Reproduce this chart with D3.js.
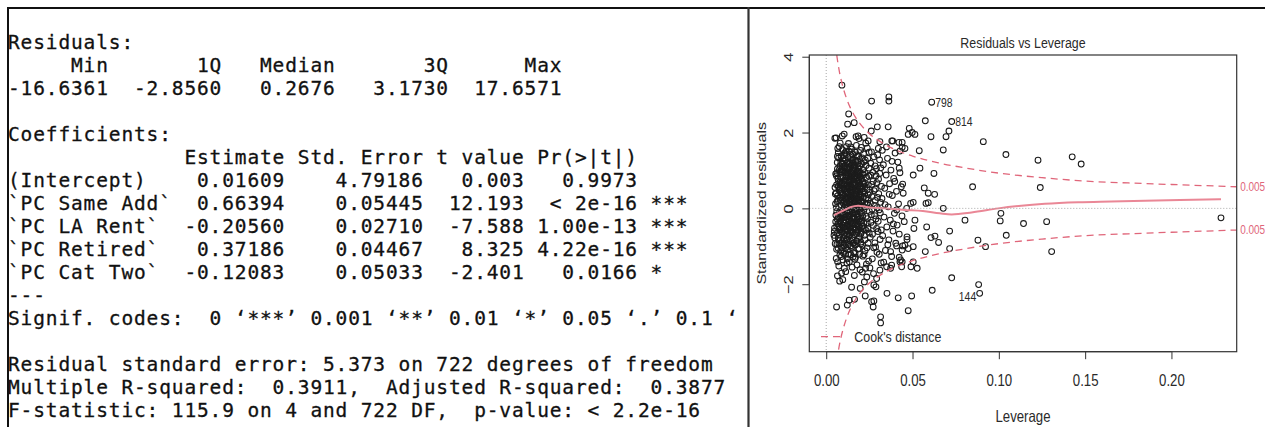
<!DOCTYPE html>
<html>
<head>
<meta charset="utf-8">
<script src="https://cdn.jsdelivr.net/npm/d3@7"></script>
<style>
  html, body { margin: 0; padding: 0; background: #fff; }
  svg { display: block; }
</style>
</head>
<body>
<svg id="fig" width="1265" height="427"></svg>
<script>
// ---------- lm() summary values ----------
const quantileNames  = ["Min", "1Q", "Median", "3Q", "Max"];
const quantileValues = ["-16.6361", "-2.8560", "0.2676", "3.1730", "17.6571"];

const coefHeaders   = ["Estimate", "Std. Error", "t value", "Pr(>|t|)"];
const coefNames     = ["(Intercept)", "`PC Same Add`", "`PC LA Rent`", "`PC Retired`", "`PC Cat Two`"];
const coefEstimates = ["0.01609", "0.66394", "-0.20560", "0.37186", "-0.12083"];
const coefStdErrors = ["4.79186", "0.05445", "0.02710", "0.04467", "0.05033"];
const coefTValues   = ["0.003", "12.193", "-7.588", "8.325", "-2.401"];
const coefPValues   = ["0.9973", "< 2e-16", "1.00e-13", "4.22e-16", "0.0166"];
const coefStars     = ["", "***", "***", "***", "*"];

const signifCuts  = ["0", "0.001", "0.01", "0.05", "0.1", "1"];
const signifCodes = ["***", "**", "*", ".", " "];

const residualSE = "5.373";
const residualDf = "722";
const rSquared = "0.3911";
const adjRSquared = "0.3877";
const fStatistic = "115.9";
const fNumDf = "4";
const fPValue = "< 2.2e-16";

// ---------- Residuals vs Leverage values ----------
const leverageTicks = [0, 0.05, 0.10, 0.15, 0.20];
const residualTicks = [-2, 0, 2, 4];
const leverageDomain = [-0.0098, 0.2378];
const residualDomain = [-3.78, 4.045];

// observations: [leverage, standardized residual]
const obsPoints = [
  // spread-out observations
  [0.0091,3.25],[0.0263,2.83],[0.0363,2.94],[0.0363,2.83],[0.0611,2.80],[0.0727,2.29],[0.0711,2.04],
  [0.0694,1.89],[0.0574,2.31],[0.0247,2.42],[0.0130,2.49],[0.0359,2.15],[0.0296,2.15],[0.0261,2.04],
  [0.0481,2.11],[0.0514,1.95],[0.0475,1.95],[0.0607,1.89],[0.0910,1.76],[0.1041,1.42],[0.1227,1.27],
  [0.1425,1.36],[0.1477,1.17],[0.0678,1.54],[0.0539,1.52],[0.0624,0.92],[0.0543,1.06],[0.0504,0.88],
  [0.0423,1.06],[0.0848,0.57],[0.1240,0.55],[0.0568,0.54],[0.0591,0.40],[0.0628,0.37],[0.0591,0.15],
  [0.0504,0.16],[0.0443,0.64],[0.0446,0.40],[0.0678,0.00],[0.0421,1.74],[0.0440,1.74],[0.0380,1.78],
  [0.0311,1.76],[0.0124,2.22],[0.0162,2.26],[0.0050,1.85],[0.0093,1.91],[0.0104,1.96],[0.0185,1.91],
  [0.0220,1.87],[0.0243,1.78],[0.0385,1.78],[0.0498,2.00],[0.0489,0.13],[0.0466,0.00],[0.0578,0.13],
  [0.0440,1.61],[0.0456,1.58],[0.0427,1.51],
  [0.0804,-0.31],[0.1012,-0.13],[0.1008,-0.33],[0.1143,-0.40],[0.1277,-0.35],[0.2287,-0.25],[0.1043,-0.71],
  [0.1306,-1.14],[0.0715,-0.60],[0.0582,-0.49],[0.0607,-0.77],[0.0630,-0.73],[0.0651,-0.90],[0.0879,-0.84],
  [0.0923,-1.01],[0.0715,-1.06],[0.0574,-1.14],[0.0727,-1.83],[0.0883,-2.01],[0.0889,-2.24],[0.0614,-2.16],
  [0.0495,-2.31],[0.0475,-2.70],[0.0417,-2.36],[0.0352,-2.24],[0.0315,-3.02],[0.0315,-2.86],[0.0272,-2.60],
  [0.0263,-2.46],[0.0226,-2.31],[0.0164,-2.40],[0.0122,-2.55],[0.0060,-2.60],[0.0288,-2.07],[0.0197,-2.11],
  [0.0491,-1.54],[0.0527,-1.58],[0.0504,-1.41],[0.0475,-1.06],[0.0456,-0.97],[0.0468,-0.75],[0.0468,-0.82],
  [0.0443,-0.99],[0.0408,-0.99],[0.0423,-1.29],[0.0440,-1.41],[0.0379,-1.50],[0.0373,-1.14],[0.0514,-0.31],
  [0.0508,-0.53],[0.0452,-0.35],[0.0408,-0.04],[0.0133,-2.42],[0.0276,-2.44],[0.0147,-2.08],[0.0276,-2.02],
  [0.0292,-1.85],[0.0350,-1.54],[0.0437,-1.54],[0.0427,-1.41],[0.0440,-1.10],[0.0504,-1.01],
  // dense low-leverage block
  [0.0045,-0.71],[0.0048,-0.52],[0.0051,0.55],[0.0052,-0.93],[0.0054,0.12],[0.0055,-0.35],[0.0057,1.86],
  [0.0058,-1.32],[0.0060,0.62],[0.0061,-0.08],[0.0062,0.94],[0.0063,-0.66],[0.0064,1.21],[0.0065,-1.78],
  [0.0066,0.33],[0.0067,-0.41],[0.0068,0.78],[0.0069,-1.05],[0.0070,1.47],[0.0071,-0.22],[0.0072,0.05],
  [0.0073,-1.52],[0.0074,0.48],[0.0075,-0.84],[0.0076,1.02],[0.0077,-0.12],[0.0078,0.27],[0.0079,-1.23],
  [0.0080,0.69],[0.0047,-0.61],[0.0050,-0.78],[0.0053,0.38],[0.0056,-0.18],[0.0059,0.86],[0.0062,-0.95],
  [0.0066,-1.41],[0.0069,0.21],[0.0072,1.33],[0.0075,-0.55],[0.0078,-1.92],[0.0080,1.12],[0.0064,-0.29],
  [0.0070,0.58],[0.0076,-0.71],[0.0058,0.02],[0.0067,1.58],[0.0073,-0.48],[0.0079,0.92],
  [0.0082,-0.33],[0.0083,0.81],[0.0084,-1.12],[0.0085,0.44],[0.0086,1.38],[0.0087,-0.62],[0.0088,0.07],
  [0.0089,-1.71],[0.0090,1.02],[0.0091,-0.26],[0.0092,0.65],[0.0093,-0.88],[0.0094,1.55],[0.0095,-0.04],
  [0.0096,0.31],[0.0097,-1.36],[0.0098,0.97],[0.0099,-0.51],[0.0100,1.25],[0.0101,-0.15],[0.0102,0.52],
  [0.0103,-0.97],[0.0104,0.18],[0.0105,-1.58],[0.0106,0.74],[0.0107,-0.39],[0.0108,1.46],[0.0109,-0.72],
  [0.0110,0.09],[0.0111,1.11],[0.0112,-1.21],[0.0113,0.37],[0.0114,-0.31],[0.0115,0.88],[0.0116,-0.82],
  [0.0117,1.63],[0.0118,-0.06],[0.0119,0.59],[0.0120,-1.44],[0.0081,1.72],[0.0084,0.22],[0.0087,0.96],
  [0.0090,-0.44],[0.0093,0.41],[0.0096,-1.88],[0.0099,0.14],[0.0102,-0.68],[0.0105,1.07],[0.0108,-0.23],
  [0.0111,0.68],[0.0114,-1.03],[0.0117,0.27],[0.0120,0.83],[0.0085,-0.91],[0.0091,0.53],[0.0097,1.31],
  [0.0103,-0.36],[0.0109,0.46],[0.0115,-0.55],[0.0088,-1.27],[0.0094,-0.17],[0.0100,0.72],[0.0106,-1.13],
  [0.0112,1.28],[0.0118,-0.47],[0.0089,0.28],[0.0095,1.19],[0.0101,-0.79],[0.0107,0.03],[0.0113,-1.67],
  [0.0119,1.42],
  [0.0121,0.16],[0.0122,-0.58],[0.0123,1.04],[0.0124,-0.19],[0.0125,0.61],[0.0126,-1.09],[0.0127,1.33],
  [0.0128,0.02],[0.0129,-0.74],[0.0130,0.87],[0.0131,-0.28],[0.0132,1.51],[0.0133,0.35],[0.0134,-1.41],
  [0.0135,0.73],[0.0136,-0.47],[0.0137,1.18],[0.0138,-0.09],[0.0139,0.49],[0.0140,-0.86],[0.0141,1.62],
  [0.0142,0.24],[0.0143,-1.22],[0.0144,0.95],[0.0145,-0.34],[0.0146,0.57],[0.0147,-0.63],[0.0148,1.27],
  [0.0149,0.11],[0.0150,-1.55],[0.0151,0.79],[0.0152,-0.13],[0.0153,1.43],[0.0154,-0.92],[0.0155,0.42],
  [0.0156,-0.41],[0.0157,1.09],[0.0158,0.06],[0.0159,-1.17],[0.0160,0.66],[0.0122,0.93],[0.0124,1.21],
  [0.0126,0.38],[0.0128,-0.96],[0.0130,-0.07],[0.0132,0.69],[0.0134,0.12],[0.0136,1.36],[0.0138,-0.59],
  [0.0140,0.31],[0.0142,-0.38],[0.0144,1.14],[0.0146,-1.03],[0.0148,0.47],[0.0150,0.91],[0.0152,-0.77],
  [0.0154,0.21],[0.0156,1.29],[0.0158,-0.53],[0.0160,1.02],[0.0123,-1.33],[0.0127,0.54],[0.0131,1.05],
  [0.0135,-0.21],[0.0139,0.83],[0.0143,0.58],[0.0147,1.56],[0.0151,-0.26],[0.0155,-1.28],[0.0159,0.34],
  [0.0125,0.29],[0.0129,1.71],[0.0133,-0.51],[0.0137,0.19],[0.0141,-0.99],[0.0145,0.76],[0.0149,-0.45],
  [0.0153,0.63],[0.0157,-0.14],[0.0121,-0.81],
  [0.0161,-0.24],[0.0162,1.15],[0.0163,0.39],[0.0164,-0.69],[0.0165,0.84],[0.0166,-1.34],[0.0167,0.17],
  [0.0168,1.48],[0.0169,-0.43],[0.0170,0.61],[0.0171,-0.01],[0.0172,1.02],[0.0173,-0.87],[0.0174,0.33],
  [0.0175,1.66],[0.0176,-0.32],[0.0177,0.72],[0.0178,-1.49],[0.0179,0.26],[0.0180,0.97],[0.0181,-0.61],
  [0.0182,0.08],[0.0183,1.24],[0.0184,-1.07],[0.0185,0.51],[0.0186,-0.18],[0.0187,0.88],[0.0188,-0.79],
  [0.0189,1.37],[0.0190,0.13],[0.0191,-0.36],[0.0192,0.67],[0.0193,-1.21],[0.0194,1.11],[0.0195,0.44],
  [0.0196,-0.52],[0.0197,0.92],[0.0198,-0.11],[0.0199,1.53],[0.0200,-0.94],[0.0163,-1.77],[0.0166,0.52],
  [0.0169,1.26],[0.0172,-0.56],[0.0175,0.09],[0.0178,0.81],[0.0181,1.38],[0.0184,0.22],[0.0187,-0.29],
  [0.0190,1.84],[0.0193,0.37],[0.0196,-1.62],[0.0199,0.58],[0.0162,-0.04],[0.0168,-0.97],[0.0174,1.41],
  [0.0180,-0.23],[0.0186,1.06],[0.0192,-0.74],[0.0198,0.29],[0.0165,0.63],[0.0171,0.46],[0.0177,-0.86],
  [0.0183,-0.41],[0.0189,0.76],[0.0195,-0.27],[0.0167,-1.19],[0.0173,1.89],[0.0179,-0.07],[0.0185,0.99],
  [0.0202,0.34],[0.0204,-0.63],[0.0206,1.18],[0.0208,-0.12],[0.0210,0.71],[0.0212,-1.26],[0.0214,0.46],
  [0.0216,1.44],[0.0218,-0.39],[0.0220,0.04],[0.0222,0.94],[0.0224,-0.83],[0.0226,1.27],[0.0228,-1.58],
  [0.0230,0.27],[0.0232,-0.21],[0.0234,0.82],[0.0236,-1.04],[0.0238,1.59],[0.0240,0.14],[0.0242,-0.54],
  [0.0244,0.62],[0.0246,-1.39],[0.0248,1.06],[0.0250,-0.08],[0.0203,1.61],[0.0205,-0.33],[0.0207,0.52],
  [0.0209,-1.68],[0.0211,0.18],[0.0213,-0.47],[0.0215,0.89],[0.0217,-0.03],[0.0219,1.23],[0.0221,-0.71],
  [0.0223,0.38],[0.0225,-1.12],[0.0227,0.66],[0.0229,1.72],[0.0231,-0.58],[0.0233,0.11],[0.0235,-1.81],
  [0.0237,0.49],[0.0239,-0.27],[0.0241,1.32],[0.0243,-0.92],[0.0245,0.23],[0.0247,0.85],[0.0249,-0.65],
  [0.0201,-0.89],[0.0213,1.02],[0.0219,-1.22],[0.0225,0.57],[0.0231,1.13],[0.0237,-0.38],[0.0243,0.36],
  [0.0249,1.48],[0.0209,0.07],[0.0221,-1.94],[0.0233,-1.47],
  [0.0252,0.42],[0.0255,-0.76],[0.0258,1.19],[0.0261,-0.17],[0.0264,0.63],[0.0267,-1.33],[0.0270,0.95],
  [0.0273,-0.45],[0.0276,1.36],[0.0279,0.08],[0.0282,-0.91],[0.0285,0.51],[0.0288,-0.28],[0.0291,1.05],
  [0.0294,-1.16],[0.0297,0.29],[0.0300,-0.61],[0.0303,0.77],[0.0306,-0.04],[0.0309,1.28],[0.0312,-0.82],
  [0.0315,0.16],[0.0318,-1.44],[0.0320,0.58],[0.0253,-1.57],[0.0256,0.13],[0.0259,-0.37],[0.0262,1.49],
  [0.0265,0.31],[0.0268,-0.68],[0.0271,0.71],[0.0274,-1.72],[0.0277,0.47],[0.0280,-0.19],[0.0283,1.12],
  [0.0286,-1.02],[0.0289,0.86],[0.0292,-0.53],[0.0295,0.02],[0.0298,1.41],[0.0301,-0.34],[0.0304,0.39],
  [0.0307,-1.21],[0.0310,0.92],[0.0313,-0.12],[0.0316,1.07],[0.0319,-0.57],[0.0257,0.88],[0.0266,-0.02],
  [0.0275,-1.04],[0.0284,0.21],[0.0293,0.68],[0.0302,1.58],[0.0311,-1.63],
  [0.0323,0.26],[0.0327,-0.72],[0.0331,1.15],[0.0335,-0.23],[0.0339,0.53],[0.0343,-1.11],[0.0347,0.88],
  [0.0351,-0.49],[0.0355,1.32],[0.0359,0.04],[0.0363,-0.83],[0.0367,0.65],[0.0371,-0.31],[0.0375,1.01],
  [0.0379,-1.27],[0.0383,0.34],[0.0387,-0.60],[0.0391,0.79],[0.0395,-0.13],[0.0399,1.46],[0.0403,-0.92],
  [0.0407,0.45],[0.0411,-0.44],[0.0415,1.22],[0.0419,0.12],[0.0423,-0.68],[0.0427,0.94],[0.0431,-1.36],
  [0.0435,0.57],[0.0439,-0.20],[0.0325,1.53],[0.0333,-1.42],[0.0341,0.10],[0.0349,1.62],[0.0357,-0.96],
  [0.0365,0.37],[0.0373,-1.58],[0.0381,1.24],[0.0389,-0.41],[0.0397,0.71],
  [0.0104,0.63],[0.0109,0.95],[0.0114,0.52],[0.0119,0.08],[0.0124,0.72],[0.0129,0.44],[0.0134,0.97],
  [0.0139,0.26],[0.0144,0.41],[0.0149,0.86],[0.0154,0.99],[0.0159,0.53],[0.0164,0.13],[0.0169,0.68],
  [0.0174,0.92],[0.0179,0.47],[0.0184,0.74],[0.0189,0.31],[0.0194,0.83],[0.0199,0.19],[0.0204,0.57],
  [0.0209,0.91],[0.0214,0.28],[0.0219,0.64],[0.0106,-0.58],[0.0116,-0.23],[0.0126,-0.44],[0.0136,-0.71],
  [0.0146,-0.16],[0.0156,-0.63],[0.0166,-0.38],[0.0176,-0.14],[0.0186,-0.57],[0.0196,-0.02],[0.0206,-0.48],
  [0.0131,0.58],[0.0141,0.12],[0.0151,1.19],[0.0161,0.81],[0.0171,1.23],
  [0.0058,0.41],[0.0061,-0.47],[0.0063,0.18],[0.0065,1.04],[0.0068,-0.24],[0.0071,0.71],[0.0074,-0.93],
  [0.0077,0.53],[0.0079,-0.36],[0.0082,0.97],[0.0085,-0.14],[0.0088,0.62],[0.0091,1.18],[0.0094,-0.62],
  [0.0097,0.36],[0.0100,-0.31],[0.0103,1.12],[0.0106,0.26],[0.0109,-0.92],[0.0112,0.79],[0.0115,0.14],
  [0.0118,1.05],[0.0121,0.45],[0.0124,-0.69],[0.0127,0.88],[0.0130,0.21],[0.0133,-0.18],[0.0136,0.62],
  [0.0139,1.09],[0.0142,-0.52],[0.0145,0.33],[0.0148,0.74],[0.0151,0.04],[0.0154,-0.37],[0.0157,0.81],
  [0.0160,0.25],[0.0163,1.07],[0.0166,-0.12],[0.0169,0.42],[0.0172,0.77],[0.0175,-0.66],[0.0178,0.36],
  [0.0181,0.58],[0.0184,1.18],[0.0187,0.18],[0.0190,-0.49],[0.0193,0.97],[0.0196,0.51],[0.0199,-0.33],
  [0.0202,0.79],[0.0205,0.16],[0.0208,1.33],[0.0211,-0.21],[0.0214,0.68],[0.0217,0.43],[0.0220,-0.53],
  [0.0060,-1.08],[0.0070,-0.79],[0.0080,-0.51],[0.0090,-1.03],[0.0100,-1.18],[0.0110,-0.49],[0.0120,-0.27],
  [0.0130,-1.21],[0.0140,-0.64],[0.0150,-0.83],[0.0160,-0.92],[0.0170,-1.29],[0.0180,-0.46],[0.0190,-1.06],
  [0.0200,-0.68],[0.0210,-0.97],[0.0055,0.91],[0.0065,1.37],[0.0075,1.63],[0.0085,1.22],[0.0095,0.83],
  [0.0105,1.39],[0.0115,1.51],[0.0125,1.08]
];

// observations flagged by row number
const flaggedIds = ["798", "814", "144"];
const flaggedLeverage = [0.0611, 0.0727, 0.0889];
const flaggedResidual = [2.80, 2.29, -2.24];
const flaggedSide = ["right", "right", "left"];

// loess smoother through the residuals
const smoothLine = [
  [0.0046,-0.18],[0.0080,-0.10],[0.0108,-0.04],[0.0140,0.03],[0.0185,0.07],[0.0243,0.03],[0.0340,0.00],
  [0.0456,-0.04],[0.0560,-0.07],[0.0658,-0.13],[0.0727,-0.16],[0.0842,-0.11],[0.0997,0.00],
  [0.1130,0.07],[0.1267,0.12],[0.1460,0.16],[0.1650,0.18],[0.1847,0.20],[0.2050,0.22],[0.2287,0.24]
];

// Cook's distance contour (upper half; the lower half mirrors it)
const cookLevel = "0.005";
const cookContour = [
  [0.0061,4.04],[0.0070,3.77],[0.0080,3.52],[0.0090,3.32],[0.0100,3.15],[0.0120,2.87],[0.0140,2.65],
  [0.0170,2.40],[0.0200,2.21],[0.0250,1.97],[0.0300,1.80],[0.0380,1.59],[0.0500,1.38],[0.0650,1.20],
  [0.0800,1.07],[0.1000,0.93],[0.1250,0.81],[0.1500,0.72],[0.1750,0.67],[0.2000,0.63],[0.2378,0.57]
];

// ---------- drawing ----------
const svg = d3.select("#fig");
svg.append("rect").attr("width", 1265).attr("height", 427).attr("fill", "#fff");

// -- left panel: console text --
const CHAR_W = 12.6;
const lines = [];
lines.push("Residuals:");
lines.push(quantileNames.map(n => n.padStart(8)).join(" "));
lines.push(quantileValues.map(v => v.padStart(8)).join(" "));
lines.push("");
lines.push("Coefficients:");
const nameW = d3.max(coefNames, d => d.length);
const colW = coefHeaders.map((h, i) =>
  Math.max(h.length, d3.max([coefEstimates, coefStdErrors, coefTValues, coefPValues][i], d => d.length)));
lines.push("".padEnd(nameW) + " " + coefHeaders.map((h, i) => h.padStart(colW[i])).join(" "));
coefNames.forEach((n, i) => {
  const cols = [coefEstimates[i], coefStdErrors[i], coefTValues[i], coefPValues[i]];
  lines.push(n.padEnd(nameW) + " " + cols.map((c, j) => c.padStart(colW[j])).join(" ") + " " + coefStars[i]);
});
lines.push("---");
let codes = "Signif. codes:  " + signifCuts[0];
signifCodes.forEach((c, i) => { codes += " \u2018" + c + "\u2019 " + signifCuts[i + 1]; });
lines.push(codes);
lines.push("");
lines.push(`Residual standard error: ${residualSE} on ${residualDf} degrees of freedom`);
lines.push(`Multiple R-squared:  ${rSquared},  Adjusted R-squared:  ${adjRSquared}`);
lines.push(`F-statistic: ${fStatistic} on ${fNumDf} and ${residualDf} DF,  p-value: ${fPValue}`);

svg.append("clipPath").attr("id", "consoleClip")
  .append("rect").attr("x", 0).attr("y", 0).attr("width", 746).attr("height", 427);

const consoleG = svg.append("g").attr("clip-path", "url(#consoleClip)");
const FS = 19.5;
consoleG.selectAll("text.line")
  .data(lines)
  .join("text")
  .attr("class", "line")
  .attr("x", 8)
  .attr("y", (d, i) => 49.3 + 23 * i)
  .attr("xml:space", "preserve")
  .style("white-space", "pre")
  .style("font-family", "'DejaVu Sans Mono', monospace")
  .style("font-size", FS + "px")
  .style("letter-spacing", (CHAR_W - FS * 0.6021) + "px")
  .attr("fill", "#111")
  .attr("stroke", "#111")
  .attr("stroke-width", 0.3)
  .text(d => d);

// frame lines
svg.append("line").attr("x1", 7).attr("x2", 1265).attr("y1", 8).attr("y2", 8)
  .attr("stroke", "#111").attr("stroke-width", 2);
svg.append("line").attr("x1", 8).attr("x2", 8).attr("y1", 7).attr("y2", 427)
  .attr("stroke", "#111").attr("stroke-width", 2);
svg.append("line").attr("x1", 748.5).attr("x2", 748.5).attr("y1", 7).attr("y2", 427)
  .attr("stroke", "#333").attr("stroke-width", 2.2);

// -- right panel: residuals vs leverage --
const PL = 809.3, PR = 1236.7, PT = 55, PB = 351.7;
const SQ = 0.8;        // horizontal squeeze of the plot lettering
const RED = "#e0667a";
const x = d3.scaleLinear().domain(leverageDomain).range([PL, PR]);
const y = d3.scaleLinear().domain(residualDomain).range([PB, PT]);

svg.append("clipPath").attr("id", "plotClip")
  .append("rect").attr("x", PL).attr("y", PT).attr("width", PR - PL).attr("height", PB - PT);

const plot = svg.append("g");
const inner = plot.append("g").attr("clip-path", "url(#plotClip)");

// points
inner.append("g").selectAll("circle")
  .data(obsPoints)
  .join("circle")
  .attr("cx", d => x(d[0]))
  .attr("cy", d => y(d[1]))
  .attr("r", 2.9)
  .attr("fill", "none")
  .attr("stroke", "#1c1c1c")
  .attr("stroke-width", 1.05);

// smoother
inner.append("path")
  .datum(smoothLine)
  .attr("d", d3.line().x(d => x(d[0])).y(d => y(d[1])).curve(d3.curveMonotoneX))
  .attr("fill", "none").attr("stroke", "#ea8796").attr("stroke-width", 2);

// reference lines at 0
inner.append("line").attr("x1", x(0)).attr("x2", x(0)).attr("y1", PT).attr("y2", PB)
  .attr("stroke", "#a8a8a8").attr("stroke-width", 1).attr("stroke-dasharray", "1,2");
inner.append("line").attr("x1", PL).attr("x2", PR).attr("y1", y(0)).attr("y2", y(0))
  .attr("stroke", "#a8a8a8").attr("stroke-width", 1).attr("stroke-dasharray", "1,2");

// Cook's distance contours
const cookLine = d3.line().x(d => x(d[0])).y(d => y(d[1])).curve(d3.curveMonotoneX);
[1, -1].forEach(sgn => {
  inner.append("path")
    .datum(cookContour.map(d => [d[0], sgn * d[1]]))
    .attr("d", cookLine)
    .attr("fill", "none").attr("stroke", RED).attr("stroke-width", 1.3)
    .attr("stroke-dasharray", "7,5");
  const last = cookContour[cookContour.length - 1];
  plot.append("text")
    .attr("transform", `translate(${PR + 3.5},${y(sgn * last[1])}) scale(${SQ},1)`)
    .attr("dy", "0.36em")
    .style("font-family", "'Liberation Sans', Arial, sans-serif")
    .style("font-size", "12.5px")
    .attr("fill", RED)
    .text(cookLevel);
});

// box
plot.append("rect").attr("x", PL).attr("y", PT).attr("width", PR - PL).attr("height", PB - PT)
  .attr("fill", "none").attr("stroke", "#333").attr("stroke-width", 1.2);

// flagged observation labels
flaggedIds.forEach((id, i) => {
  const px = x(flaggedLeverage[i]), py = y(flaggedResidual[i]);
  const right = flaggedSide[i] === "right";
  plot.append("text")
    .attr("transform", `translate(${right ? px + 3.5 : px - 3.5},${py}) scale(${SQ},1)`)
    .attr("dy", right ? "0.36em" : "0.6em")
    .attr("text-anchor", right ? "start" : "end")
    .style("font-family", "'Liberation Sans', Arial, sans-serif")
    .style("font-size", "13px")
    .attr("fill", "#2a2a2a")
    .text(id);
});

// legend
plot.append("line").attr("x1", 821).attr("x2", 842.5).attr("y1", 336.7).attr("y2", 336.7)
  .attr("stroke", RED).attr("stroke-width", 1.3).attr("stroke-dasharray", "7,5");
plot.append("text")
  .attr("transform", `translate(854.3,342) scale(${SQ},1)`)
  .style("font-family", "'Liberation Sans', Arial, sans-serif")
  .style("font-size", "15.5px")
  .attr("fill", "#2a2a2a")
  .text("Cook's distance");

// axes
const fontCss = "'Liberation Sans', Arial, sans-serif";
const xAxis = plot.append("g").attr("transform", `translate(0,${PB})`)
  .call(d3.axisBottom(x).tickValues(leverageTicks).tickSize(7.5).tickSizeOuter(0)
    .tickFormat(d3.format(".2f")));
xAxis.select(".domain").attr("d", `M${x(leverageTicks[0])},0H${x(leverageTicks[leverageTicks.length - 1])}`)
  .attr("stroke", "#333");
xAxis.selectAll(".tick line").attr("stroke", "#333");
xAxis.selectAll(".tick text")
  .attr("y", 34.5).attr("dy", 0)
  .attr("transform", `scale(${SQ},1)`)
  .style("font-family", fontCss).style("font-size", "16.5px").attr("fill", "#2a2a2a");

const yAxis = plot.append("g").attr("transform", `translate(${PL},0)`)
  .call(d3.axisLeft(y).tickValues(residualTicks).tickSize(7).tickSizeOuter(0)
    .tickFormat(d3.format("d")));
yAxis.select(".domain").attr("d", `M0,${y(residualTicks[0])}V${y(residualTicks[residualTicks.length - 1])}`)
  .attr("stroke", "#333");
yAxis.selectAll(".tick line").attr("stroke", "#333");
yAxis.selectAll(".tick text")
  .attr("x", 0).attr("dy", 0)
  .attr("transform", `translate(-16,0) scale(${SQ},1) rotate(-90)`)
  .attr("text-anchor", "middle")
  .style("font-family", fontCss).style("font-size", "16.5px").attr("fill", "#2a2a2a");

// titles
plot.append("text")
  .attr("transform", `translate(1023,48.3) scale(${SQ},1)`)
  .attr("text-anchor", "middle")
  .style("font-family", fontCss).style("font-size", "15.5px").attr("fill", "#2a2a2a")
  .text("Residuals vs Leverage");
plot.append("text")
  .attr("transform", `translate(1023,422) scale(${SQ},1)`)
  .attr("text-anchor", "middle")
  .style("font-family", fontCss).style("font-size", "16.5px").attr("fill", "#2a2a2a")
  .text("Leverage");
plot.append("text")
  .attr("transform", `translate(765.5,${(PT + PB) / 2}) scale(${SQ},1) rotate(-90)`)
  .attr("text-anchor", "middle")
  .style("font-family", fontCss).style("font-size", "16px").attr("fill", "#2a2a2a")
  .text("Standardized residuals");
</script>
</body>
</html>
